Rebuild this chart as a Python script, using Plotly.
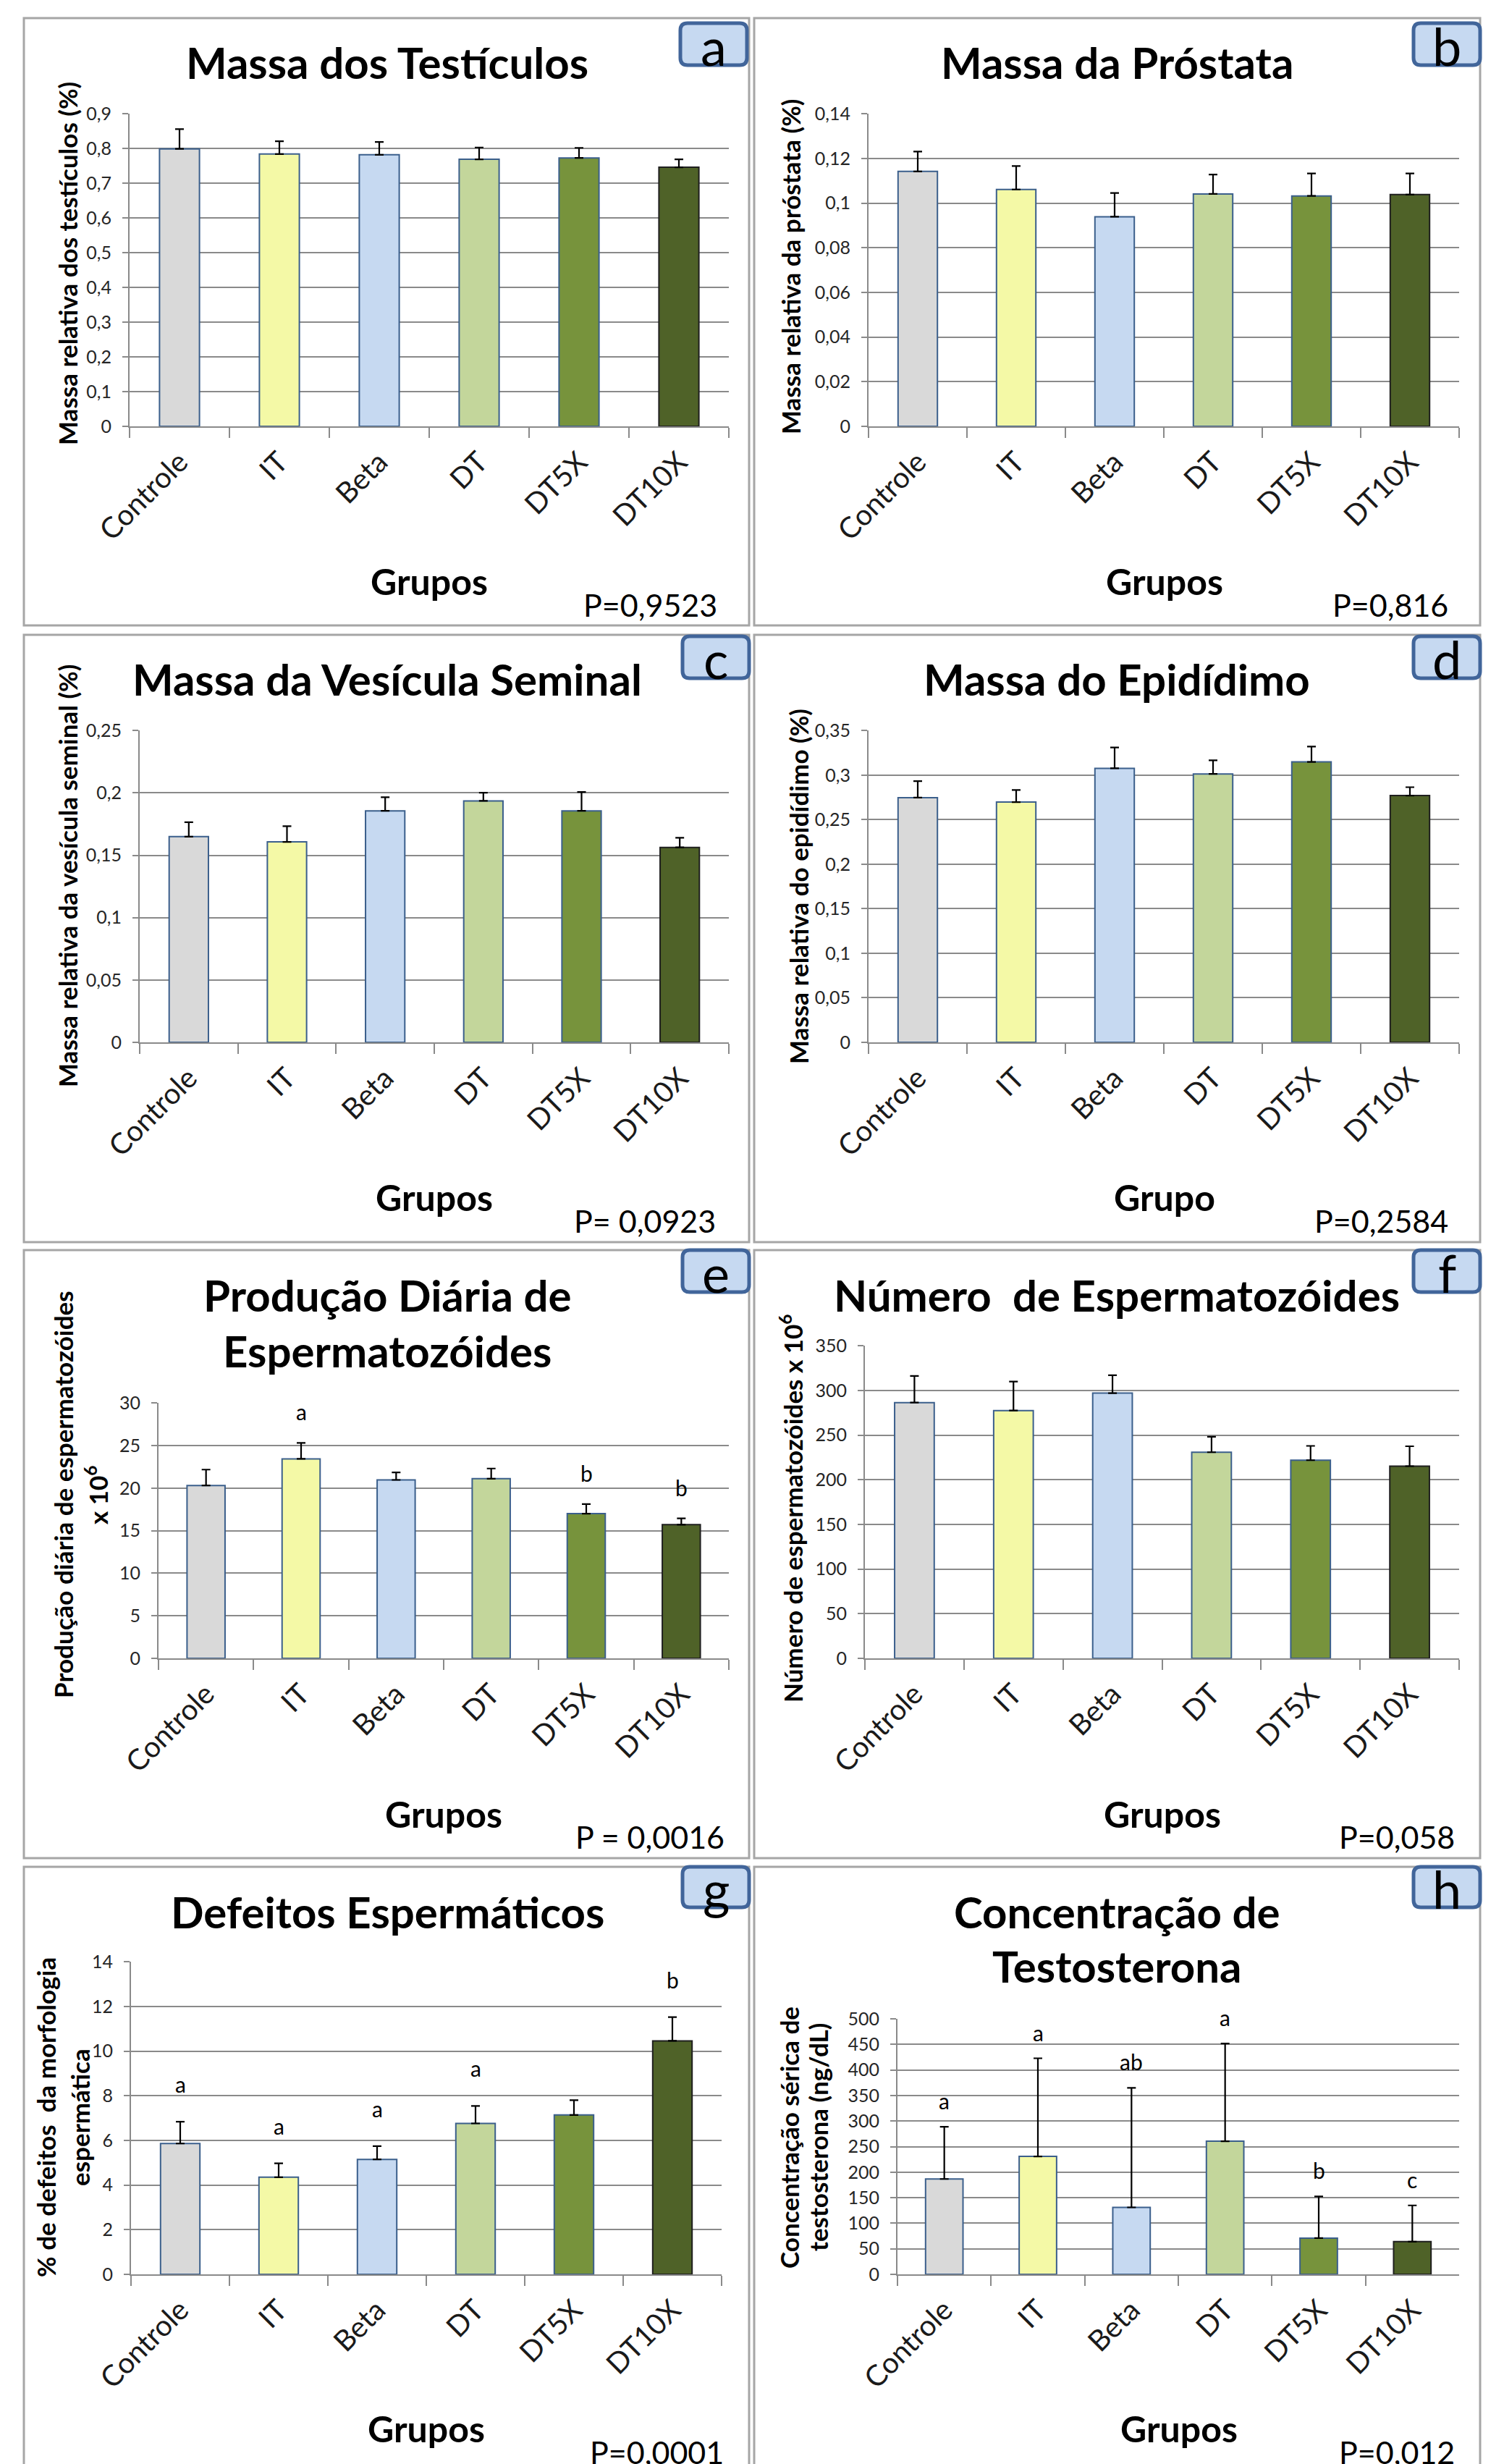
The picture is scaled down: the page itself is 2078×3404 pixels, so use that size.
import plotly.graph_objects as go

W, H = 2078, 3404
OFF = 8  # page body margin in front of the plot div
FONT = "Lato, 'Open Sans', sans-serif"
GRID = "#8a8a8a"

# ---------------- data ----------------
groups = ["Controle", "IT", "Beta", "DT", "DT5X", "DT10X"]
bar_colors = ["#d9d9d9", "#f4f9a6", "#c6d9f1", "#c3d69b", "#77933c", "#4f6228"]
bar_line_colors = ["#3b5f8c", "#3b5f8c", "#3b5f8c", "#3b5f8c", "#3b5f8c", "#1f1f1f"]

testis_mean = [0.799, 0.784, 0.782, 0.769, 0.773, 0.746]
testis_err = [0.057, 0.037, 0.037, 0.034, 0.029, 0.023]
prostate_mean = [0.1142, 0.1061, 0.0939, 0.1041, 0.1032, 0.1038]
prostate_err = [0.0089, 0.0105, 0.0106, 0.0087, 0.0101, 0.0095]
vesicle_mean = [0.1649, 0.1607, 0.1856, 0.1936, 0.1856, 0.1563]
vesicle_err = [0.0116, 0.0126, 0.0109, 0.0065, 0.0151, 0.0077]
epid_mean = [0.2747, 0.2697, 0.3076, 0.3013, 0.3148, 0.2770]
epid_err = [0.0185, 0.0135, 0.0234, 0.0153, 0.0172, 0.0094]
dsp_mean = [20.31, 23.43, 20.96, 21.10, 17.00, 15.70]
dsp_err = [1.86, 1.87, 0.89, 1.20, 1.12, 0.74]
count_mean = [286.4, 277.5, 297.0, 230.8, 221.9, 215.2]
count_err = [29.8, 32.5, 20.0, 17.4, 16.0, 22.3]
defect_mean = [5.86, 4.35, 5.15, 6.76, 7.14, 10.46]
defect_err = [0.98, 0.62, 0.59, 0.78, 0.66, 1.06]
testo_mean = [186.7, 230.9, 131.1, 260.7, 70.9, 64.0]
testo_err = [102.2, 192.1, 233.9, 191.3, 81.5, 71.0]

dsp_letters = ["", "a", "", "", "b", "b"]
defect_letters = ["a", "a", "a", "a", "", "b"]
testo_letters = ["a", "a", "ab", "a", "b", "c"]

# ---------------- panel specs (layout in page pixels) ----------------
panels = [
    dict(mean=testis_mean, err=testis_err, ymax=0.9, dtick=0.1, label="a",
         title=["Massa dos Testículos"], ytitle=["Massa relativa dos testículos (%)"],
         xtitle="Grupos", p="P=0,9523",
         frame=(33, 25, 1035, 864), box=(940, 32, 1032, 90), plot=(179, 157, 1007, 589),
         title_xy=(535, [86]), ytitle_xy=([93], 364), xtitle_xy=(593, 803), p_xy=(993, 836)),
    dict(mean=prostate_mean, err=prostate_err, ymax=0.14, dtick=0.02, label="b",
         title=["Massa da Próstata"], ytitle=["Massa relativa da próstata (%)"],
         xtitle="Grupos", p="P=0,816",
         frame=(1042, 25, 2045, 864), box=(1953, 32, 2045, 90), plot=(1200, 157, 2016, 589),
         title_xy=(1543, [86]), ytitle_xy=([1092], 369), xtitle_xy=(1609, 803), p_xy=(2003, 836)),
    dict(mean=vesicle_mean, err=vesicle_err, ymax=0.25, dtick=0.05, label="c",
         title=["Massa da Vesícula Seminal"], ytitle=["Massa relativa da vesícula seminal (%)"],
         xtitle="Grupos", p="P= 0,0923",
         frame=(33, 877, 1035, 1716), box=(943, 879, 1035, 937), plot=(193, 1009, 1007, 1440),
         title_xy=(535, [938]), ytitle_xy=([93], 1210), xtitle_xy=(600, 1654), p_xy=(991, 1687)),
    dict(mean=epid_mean, err=epid_err, ymax=0.35, dtick=0.05, label="d",
         title=["Massa do Epidídimo"], ytitle=["Massa relativa do epidídimo (%)"],
         xtitle="Grupo", p="P=0,2584",
         frame=(1042, 877, 2045, 1716), box=(1953, 879, 2045, 937), plot=(1200, 1009, 2016, 1440),
         title_xy=(1543, [938]), ytitle_xy=([1103], 1225), xtitle_xy=(1609, 1654), p_xy=(2003, 1687)),
    dict(mean=dsp_mean, err=dsp_err, ymax=30, dtick=5, label="e", letters=dsp_letters, lshift=43,
         title=["Produção Diária de", "Espermatozóides"],
         ytitle=["Produção diária de espermatozóides", "x 10<sup>6</sup>"],
         xtitle="Grupos", p="P = 0,0016",
         frame=(33, 1727, 1035, 2567), box=(943, 1727, 1035, 1785), plot=(219, 1938, 1007, 2291),
         title_xy=(535, [1789, 1866]), ytitle_xy=([87, 133], 2065), xtitle_xy=(613, 2506), p_xy=(1003, 2537)),
    dict(mean=count_mean, err=count_err, ymax=350, dtick=50, label="f",
         title=["Número \u00a0de Espermatozóides"], ytitle=["Número de espermatozóides x 10<sup>6</sup>"],
         xtitle="Grupos", p="P=0,058",
         frame=(1042, 1727, 2045, 2567), box=(1953, 1727, 2045, 1785), plot=(1195, 1859, 2016, 2291),
         title_xy=(1543, [1789]), ytitle_xy=([1093], 2084), xtitle_xy=(1606, 2506), p_xy=(2012, 2537)),
    dict(mean=defect_mean, err=defect_err, ymax=14, dtick=2, label="g", letters=defect_letters, lshift=52,
         title=["Defeitos Espermáticos"], ytitle=["% de defeitos \u00a0da morfologia", "espermática"],
         xtitle="Grupos", p="P=0,0001",
         frame=(33, 2579, 1035, None), box=(943, 2579, 1035, 2635), plot=(181, 2710, 997, 3142),
         title_xy=(535, [2641]), ytitle_xy=([63, 110], 2925), xtitle_xy=(589, 3355), p_xy=(1002, 3387)),
    dict(mean=testo_mean, err=testo_err, ymax=500, dtick=50, label="h", letters=testo_letters, lshift=36,
         title=["Concentração de", "Testosterona"],
         ytitle=["Concentração sérica de", "testosterona (ng/dL)"],
         xtitle="Grupos", p="P=0,012",
         frame=(1042, 2579, 2045, None), box=(1953, 2579, 2045, 2635), plot=(1240, 2789, 2016, 3142),
         title_xy=(1543, [2641, 2716]), ytitle_xy=([1090, 1130], 2953), xtitle_xy=(1629, 3355), p_xy=(2012, 3387)),
]


def PX(x):
    return (x - OFF) / W


def PY(y):
    return 1 - (y - OFF) / H


def rounded_path(x0, y0, x1, y1, r):
    pts = [
        ("M", [(x0 + r, y0)]), ("L", [(x1 - r, y0)]), ("Q", [(x1, y0), (x1, y0 + r)]),
        ("L", [(x1, y1 - r)]), ("Q", [(x1, y1), (x1 - r, y1)]), ("L", [(x0 + r, y1)]),
        ("Q", [(x0, y1), (x0, y1 - r)]), ("L", [(x0, y0 + r)]), ("Q", [(x0, y0), (x0 + r, y0)]),
    ]
    s = ""
    for cmd, coords in pts:
        s += cmd + " " + " ".join(f"{PX(a):.6f},{PY(b):.6f}" for a, b in coords) + " "
    return s + "Z"


fig = go.Figure()
shapes = []
annotations = []
layout_axes = {}


def ann(x, y, text, size, bold=False, angle=0, xanchor="center", yanchor="middle", color="#000000"):
    annotations.append(dict(
        x=PX(x), y=PY(y), xref="paper", yref="paper",
        text=f"<b>{text}</b>" if bold else text, showarrow=False,
        textangle=angle, xanchor=xanchor, yanchor=yanchor,
        font=dict(family=FONT, size=size, color=color)))


for i, p in enumerate(panels, start=1):
    xk = "x" if i == 1 else f"x{i}"
    yk = "y" if i == 1 else f"y{i}"
    x0, y0, x1, y1 = p["plot"]
    fig.add_trace(go.Bar(
        x=groups, y=p["mean"], xaxis=xk, yaxis=yk, showlegend=False, hoverinfo="skip",
        marker=dict(color=bar_colors, line=dict(color=bar_line_colors, width=2)),
        error_y=dict(type="data", array=p["err"], arrayminus=[0] * len(groups), symmetric=False,
                     color="#000000", thickness=2.2, width=6),
    ))
    layout_axes["xaxis" if i == 1 else f"xaxis{i}"] = dict(
        domain=[PX(x0), PX(x1)], anchor=yk, type="category",
        showline=True, linecolor=GRID, linewidth=2, showgrid=False, zeroline=False,
        ticks="outside", tickson="boundaries", ticklen=14, tickwidth=2, tickcolor=GRID,
        tickangle=-45, ticklabelstandoff=8, automargin=False,
        tickfont=dict(family=FONT, size=40, color="#1a1a1a"),
    )
    layout_axes["yaxis" if i == 1 else f"yaxis{i}"] = dict(
        domain=[PY(y1), PY(y0)], anchor=xk, range=[0, p["ymax"] * 1.0005],
        tick0=0, dtick=p["dtick"], showgrid=True, gridcolor=GRID, gridwidth=2,
        showline=True, linecolor=GRID, linewidth=2, zeroline=False,
        ticks="outside", ticklen=8, tickwidth=2, tickcolor=GRID, ticklabelstandoff=10,
        automargin=False,
        tickfont=dict(family=FONT, size=25, color="#262626"),
    )

    # panel frame
    fx0, fy0, fx1, fy1 = p["frame"]
    if fy1 is None:
        path = (f"M {PX(fx0):.6f},0 L {PX(fx0):.6f},{PY(fy0):.6f} "
                f"L {PX(fx1):.6f},{PY(fy0):.6f} L {PX(fx1):.6f},0")
        shapes.append(dict(type="path", xref="paper", yref="paper", path=path,
                           line=dict(color="#a6a6a6", width=3)))
    else:
        shapes.append(dict(type="rect", xref="paper", yref="paper", x0=PX(fx0), x1=PX(fx1),
                           y0=PY(fy1), y1=PY(fy0), line=dict(color="#a6a6a6", width=3)))
    # label box
    bx0, by0, bx1, by1 = p["box"]
    shapes.append(dict(type="path", xref="paper", yref="paper", path=rounded_path(bx0, by0, bx1, by1, 10),
                       fillcolor="#c6d9f1", line=dict(color="#41659a", width=5)))
    ann((bx0 + bx1) / 2, (by0 + by1) / 2 + 2, p["label"], 72)

    # titles
    tx, tys = p["title_xy"]
    for line, ty in zip(p["title"], tys):
        ann(tx, ty, line, 60, bold=True)
    yxs, yy = p["ytitle_xy"]
    for line, yx in zip(p["ytitle"], yxs):
        ann(yx, yy, line, 35, bold=True, angle=-90)
    ann(p["xtitle_xy"][0], p["xtitle_xy"][1], p["xtitle"], 50, bold=True)
    ann(p["p_xy"][0], p["p_xy"][1], p["p"], 43, xanchor="right")

    # significance letters
    if "letters" in p:
        for g, m, e, l in zip(groups, p["mean"], p["err"], p["letters"]):
            if l:
                annotations.append(dict(
                    x=g, y=m + e, xref=xk, yref=yk, text=l, showarrow=False,
                    yanchor="middle", yshift=p["lshift"],
                    font=dict(family=FONT, size=30, color="#000000")))

fig.update_layout(
    width=W, height=H, autosize=False,
    margin=dict(l=0, r=0, t=0, b=0, pad=0, autoexpand=False),
    paper_bgcolor="white", plot_bgcolor="white",
    bargap=0.6, separators=", ",
    shapes=shapes, annotations=annotations,
    font=dict(family=FONT),
    **layout_axes,
)

fig.write_html("out.html")
